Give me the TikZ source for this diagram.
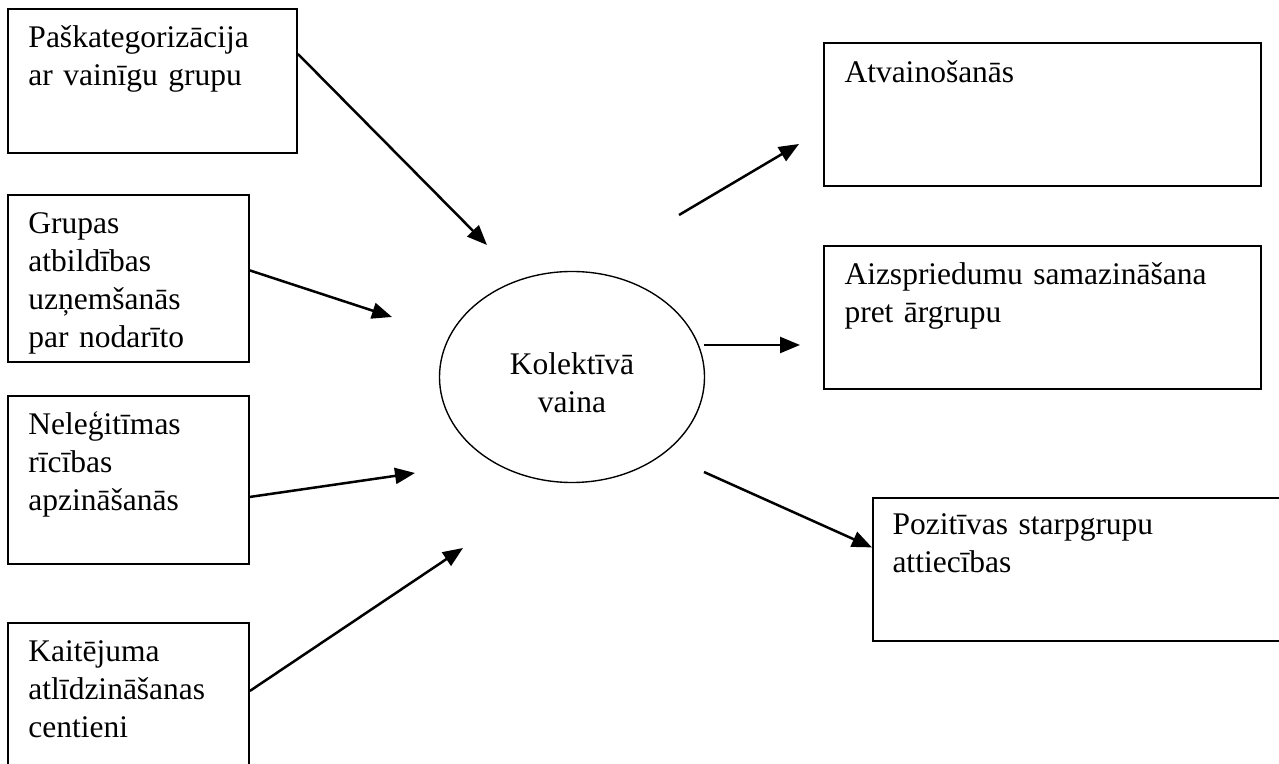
\documentclass[tikz,border=0pt]{standalone}
\usepackage{fontspec}
\setmainfont{Liberation Serif}[WordSpace=0.8]
\usetikzlibrary{arrows.meta,shapes.geometric}

\begin{document}
\begin{tikzpicture}[
    x=0.4pt, y=-0.4pt,
    box/.style={draw, line width=0.75pt, anchor=north west, inner sep=0pt},
    txt/.style={anchor=base west, align=left, inner sep=0pt, text width=170pt,
                font=\fontsize{12.6}{15.2}\selectfont},
    flow/.style={-{Triangle[length=8pt, width=6.4pt]}, line width=1pt},
    hub/.style={ellipse, draw, line width=0.55pt, inner sep=0pt, align=center,
                minimum width=106pt, minimum height=84.4pt,
                font=\fontsize{12.6}{15.2}\selectfont},
]
    \clip (0,0) rectangle (1279,764);

    % causes
    \node[box, minimum width=115.6pt, minimum height=57.6pt] (selfcat) at (7,8) {};
    \node[box, minimum width=96.4pt, minimum height=66.8pt] (respons) at (7,194) {};
    \node[box, minimum width=96.4pt, minimum height=67.2pt] (illegit) at (7,395) {};
    \node[box, minimum width=96.4pt, minimum height=72pt] (repair) at (7,622) {};
    \node[txt] at ([shift={(21,40)}]selfcat.north west) {Paškategorizācija\\ar vainīgu grupu};
    \node[txt] at ([shift={(21,40)}]respons.north west) {Grupas\\atbildības\\uzņemšanās\\par nodarīto};
    \node[txt] at ([shift={(21,40)}]illegit.north west) {Neleģitīmas\\rīcības\\apzināšanās};
    \node[txt] at ([shift={(21,40)}]repair.north west) {Kaitējuma\\atlīdzināšanas\\centieni};

    % hub
    \node[hub] (guilt) at (572,377) {\rule{0pt}{13.4pt}Kolektīvā\\vaina};

    % effects
    \node[box, minimum width=174.8pt, minimum height=57.2pt] (apology) at (823,42) {};
    \node[box, minimum width=174.8pt, minimum height=57.2pt] (prejud) at (823,245) {};
    \node[box, minimum width=180pt, minimum height=57.2pt] (relat) at (872,497) {};
    \node[txt] at ([shift={(21,41)}]apology.north west) {Atvainošanās};
    \node[txt] at ([shift={(21,40)}]prejud.north west) {Aizspriedumu samazināšana\\pret ārgrupu};
    \node[txt] at ([shift={(20,38)}]relat.north west) {Pozitīvas starpgrupu\\attiecības};

    % free arrow ends
    \coordinate (in1) at (487,245);
    \coordinate (in2) at (392,317);
    \coordinate (in3) at (415,473);
    \coordinate (in4) at (463,548);
    \coordinate (out1) at (679,215);
    \coordinate (out2) at (704,345);
    \coordinate (out3) at (704,472);
    \coordinate (tip1) at (799,144);
    \coordinate (tip2) at (800,345);

    \draw[flow] ([shift={(0,-27)}]selfcat.east) -- (in1);
    \draw[flow] ([shift={(0,-8)}]respons.east) -- (in2);
    \draw[flow] ([shift={(0,17)}]illegit.east) -- (in3);
    \draw[flow] ([shift={(0,-22)}]repair.east) -- (in4);
    \draw[flow] (out1) -- (tip1);
    \draw[flow] (out2) -- (tip2);
    \draw[flow] (out3) -- ([shift={(0,-22)}]relat.west);

\end{tikzpicture}
\end{document}
